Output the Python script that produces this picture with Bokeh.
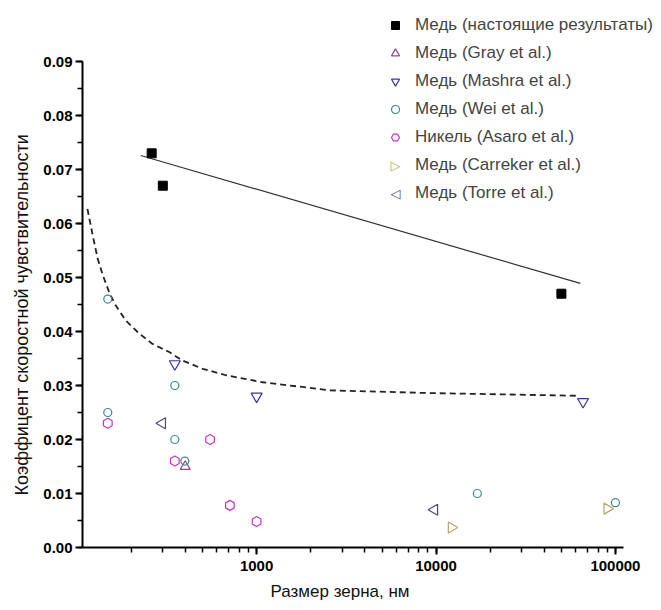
import math
from bokeh.plotting import figure
from bokeh.models import (Range1d, Legend, LegendItem, LogTicker, SingleIntervalTicker,
                          PrintfTickFormatter, Label, Title)
from bokeh.embed import file_html
from bokeh.resources import INLINE

# ---- data ----
cu_x = [260, 300, 50000]
cu_y = [0.073, 0.067, 0.047]
gray_x = [400]
gray_y = [0.015]
mashra_x = [350, 1000, 66000]
mashra_y = [0.034, 0.028, 0.027]
wei_x = [148, 148, 350, 350, 398, 17000, 100000]
wei_y = [0.046, 0.025, 0.030, 0.020, 0.016, 0.010, 0.0083]
asaro_x = [148, 350, 550, 710, 1000]
asaro_y = [0.023, 0.016, 0.020, 0.0078, 0.0048]
carreker_x = [12200, 90000]
carreker_y = [0.0037, 0.0072]
torre_x = [298, 9800]
torre_y = [0.023, 0.007]

fit_x = [226, 63800]
fit_y = [0.0726, 0.0489]

curve_x = [114, 122, 130, 139, 151, 164, 187, 222, 263, 326, 387, 500, 675, 1080,
           2580, 9300, 61400]
curve_y = [0.0627, 0.0578, 0.0535, 0.0504, 0.0472, 0.0448, 0.0420, 0.0396, 0.0377,
           0.0362, 0.0346, 0.0331, 0.0319, 0.0306, 0.0291, 0.0286, 0.0281]

legend_labels = ["Медь (настоящие результаты)", "Медь (Gray et al.)", "Медь (Mashra et al.)",
                 "Медь (Wei et al.)", "Никель (Asaro et al.)", "Медь (Carreker et al.)",
                 "Медь (Torre et al.)"]
x_title = "Размер зерна, нм"
y_title = "Коэффицент скоростной чувствительности"

FONT = "Liberation Sans"
C_GRAY, C_MASHRA, C_WEI = "#8A4A80", "#3535A5", "#3A8A8A"
C_ASARO, C_CARR, C_TORRE = "#CC33CC", "#B8A860", "#4A4A7A"

# frame spans the whole area right of / above the axes so the legend is not clipped;
# the axis lines are limited with bounds
p = figure(width=661, height=610, x_axis_type="log",
           x_range=Range1d(107, 180700), y_range=Range1d(0, 0.1013),
           output_backend="svg", toolbar_location=None,
           min_border_left=82, min_border_right=0, min_border_top=0, min_border_bottom=63)
p.outline_line_color = None
p.grid.visible = False
p.background_fill_color = "white"
p.border_fill_color = "white"

# lines
p.line(fit_x, fit_y, line_color="#333333", line_width=1.2)
p.line(curve_x, curve_y, line_color="#222222", line_width=1.8, line_dash="6 4")

# markers
r_cu = p.scatter(cu_x, cu_y, marker="square", size=9, fill_color="black", line_color="black")
r_gray = p.scatter(gray_x, gray_y, marker="triangle", size=10, fill_color=None,
                   line_color=C_GRAY, line_width=1.2)
r_mashra = p.scatter(mashra_x, mashra_y, marker="inverted_triangle", size=11, fill_color=None,
                     line_color=C_MASHRA, line_width=1.2)
r_wei = p.scatter(wei_x, wei_y, marker="circle", size=8, fill_color=None,
                  line_color=C_WEI, line_width=1.2)
r_asaro = p.scatter(asaro_x, asaro_y, marker="hex", size=10, angle=math.pi / 6, fill_color=None,
                    line_color=C_ASARO, line_width=1.2)
p.scatter(carreker_x, carreker_y, marker="triangle", size=11, angle=-math.pi / 2,
          fill_color=None, line_color=C_CARR, line_width=1.2)
p.scatter(torre_x, torre_y, marker="triangle", size=11, angle=math.pi / 2,
          fill_color=None, line_color=C_TORRE, line_width=1.2)

# legend stand-ins for the sideways triangles (the legend cannot rotate markers)
r_carr_leg = p.scatter([], [], marker="triangle", size=10, fill_alpha=0, line_alpha=0)
r_torre_leg = p.scatter([], [], marker="triangle", size=10, fill_alpha=0, line_alpha=0)

renderers = [r_cu, r_gray, r_mashra, r_wei, r_asaro, r_carr_leg, r_torre_leg]
LEG_X, LEG_Y, SPACING, ROW = 303, 344, 8, 20
legend = Legend(items=[LegendItem(label=l, renderers=[r]) for l, r in zip(legend_labels, renderers)],
                location=(LEG_X, LEG_Y), padding=0, margin=0, spacing=SPACING,
                glyph_width=20, glyph_height=ROW, label_height=ROW, label_standoff=10,
                label_text_font=FONT, label_text_font_size="17px",
                border_line_color=None, background_fill_alpha=0)
p.add_layout(legend, "center")

# sideways triangle symbols placed on rows 6 and 7 of the legend
n_rows = len(legend_labels)
leg_h = n_rows * (ROW + SPACING) - SPACING
for row, sym, col in [(5, "▷", C_CARR), (6, "◁", C_TORRE)]:
    cy = LEG_Y + leg_h - row * (ROW + SPACING) - ROW / 2
    p.add_layout(Label(x=LEG_X + 10, y=cy, x_units="screen", y_units="screen", text=sym,
                       text_align="center", text_baseline="middle", text_color=col,
                       text_font="DejaVu Sans", text_font_size="13px"))

# axes
for ax in (p.xaxis[0], p.yaxis[0]):
    ax.axis_line_width = 2
    ax.major_tick_line_width = 2
    ax.minor_tick_line_width = 1.5
    ax.major_tick_in = 0
    ax.minor_tick_in = 0
    ax.major_tick_out = 7
    ax.minor_tick_out = 5
    ax.major_label_text_font = FONT
    ax.major_label_text_font_style = "bold"
    ax.major_label_text_font_size = "15px"
    ax.major_label_text_color = "black"

p.xaxis.bounds = (107, 111000)
p.xaxis.ticker = LogTicker(num_minor_ticks=10)
p.xaxis.formatter = PrintfTickFormatter(format="%d")
p.xaxis.major_label_standoff = 6

p.yaxis.bounds = (0, 0.09)
p.yaxis.ticker = SingleIntervalTicker(interval=0.01, num_minor_ticks=2)
p.yaxis.formatter = PrintfTickFormatter(format="%.2f")
p.yaxis.major_label_standoff = 3

# axis titles as side-panel titles, so they can sit under the axis lines (not the wider frame)
p.add_layout(Title(text=x_title, align="left", offset=188, standoff=12,
                   text_font=FONT, text_font_style="normal", text_font_size="17px",
                   text_color="#111111"), "below")
p.add_layout(Title(text=y_title, align="left", offset=52, standoff=17,
                   text_font=FONT, text_font_style="normal", text_font_size="18px",
                   text_color="#111111"), "left")

open("out.html", "w").write(file_html(p, INLINE))
